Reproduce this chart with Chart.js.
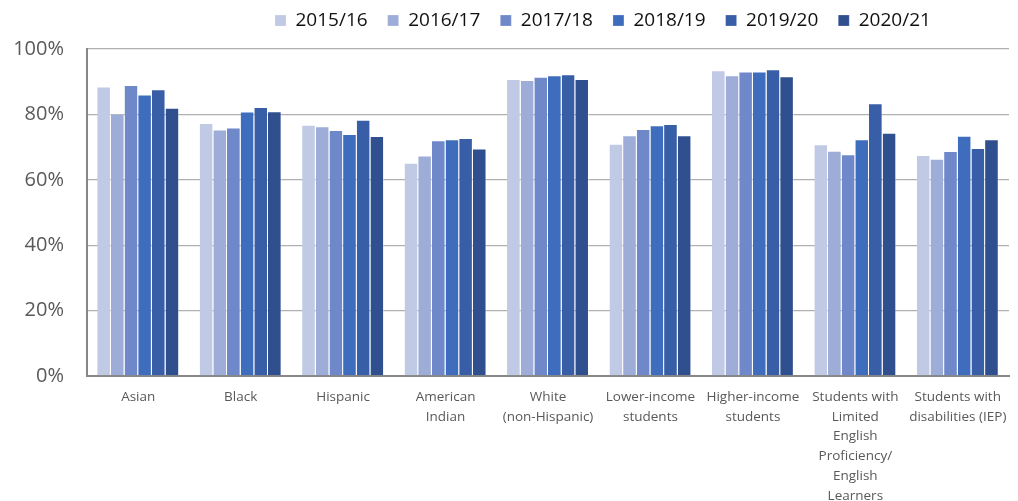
<!DOCTYPE html>
<html>
<head>
<meta charset="utf-8">
<script src="https://cdn.jsdelivr.net/npm/chart.js@4"></script>
<style>
  html, body { margin: 0; padding: 0; background: #fff; }
  #wrap { width: 1018px; height: 501px; position: relative; }
</style>
</head>
<body>
<div id="wrap"><canvas id="c"></canvas></div>
<script>
const categories = [
  "Asian",
  "Black",
  "Hispanic",
  ["American", "Indian"],
  ["White", "(non-Hispanic)"],
  ["Lower-income", "students"],
  ["Higher-income", "students"],
  ["Students with", "Limited", "English", "Proficiency/", "English", "Learners"],
  ["Students with", "disabilities (IEP)"]
];
const seriesNames = ["2015/16", "2016/17", "2017/18", "2018/19", "2019/20", "2020/21"];
const v2015 = [88.5, 77.4, 76.8, 65.2, 90.8, 71.0, 93.5, 70.9, 67.6];
const v2016 = [80.3, 75.4, 76.4, 67.4, 90.5, 73.6, 92.0, 68.9, 66.4];
const v2017 = [89.0, 76.0, 75.2, 72.1, 91.5, 75.5, 93.1, 67.8, 68.8];
const v2018 = [86.1, 80.9, 74.0, 72.4, 92.0, 76.7, 93.1, 72.4, 73.5];
const v2019 = [87.7, 82.3, 78.4, 72.8, 92.3, 77.1, 93.8, 83.4, 69.7];
const v2020 = [82.0, 81.0, 73.4, 69.6, 90.8, 73.6, 91.7, 74.4, 72.4];
const yTicks = [0, 20, 40, 60, 80, 100];

const seriesValues = [v2015, v2016, v2017, v2018, v2019, v2020];
const colors = ["#C0CAE5", "#9EADD7", "#6E88CA", "#3F6DBE", "#385EA7", "#2F4F8E"];

const legendShift = {
  id: 'legendShift',
  afterLayout(chart) {
    const lg = chart.legend;
    if (lg) {
      lg.left = 255;
      lg.right = 1018;
      lg.top = lg.top - 9;
    }
  }
};

new Chart(document.getElementById('c'), {
  type: 'bar',
  data: {
    labels: categories,
    datasets: seriesNames.map((name, i) => ({
      label: name,
      data: seriesValues[i],
      backgroundColor: colors[i],
      borderColor: 'rgba(255,255,255,0.45)',
      borderWidth: { top: 1, left: 0, right: 1, bottom: 0 },
      barPercentage: 1.0,
      categoryPercentage: 0.8
    }))
  },
  options: {
    responsive: true,
    maintainAspectRatio: false,
    animation: false,
    layout: { padding: { left: 0, right: 9, top: 0, bottom: 0 } },
    plugins: {
      legend: {
        position: 'top',
        align: 'start',
        labels: {
          boxWidth: 11,
          boxHeight: 11,
          padding: 20,
          color: '#111111',
          font: { family: 'Open Sans', size: 19 }
        }
      },
      tooltip: { enabled: false }
    },
    scales: {
      x: {
        grid: { display: false },
        border: { display: true, color: '#878787', width: 2 },
        ticks: {
          color: '#595959',
          font: { family: 'Open Sans', size: 13.5, lineHeight: 1.47 },
          padding: 3,
          maxRotation: 0,
          minRotation: 0,
          autoSkip: false
        },
        afterFit(scale) { scale.height = 125; }
      },
      y: {
        min: 0,
        max: 100,
        afterBuildTicks(scale) { scale.ticks = yTicks.map(v => ({ value: v })); },
        grid: { color: '#b0b0b0', lineWidth: 1.3, drawTicks: false },
        border: { display: true, color: '#878787', width: 2 },
        ticks: {
          color: '#595959',
          font: { family: 'Open Sans', size: 20 },
          padding: 23,
          callback: v => v + '%'
        },
        afterFit(scale) { scale.width = 87; }
      }
    }
  },
  plugins: [legendShift]
});
</script>
</body>
</html>
